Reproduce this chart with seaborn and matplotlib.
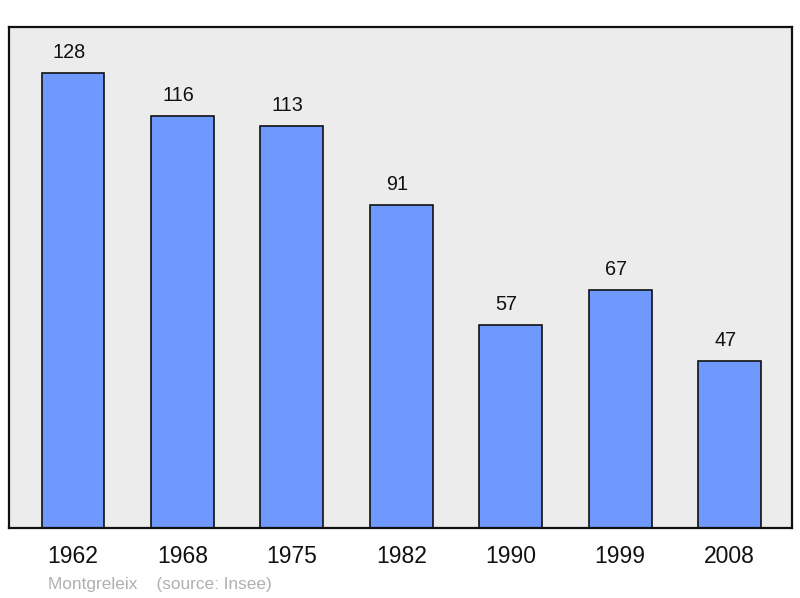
import matplotlib
matplotlib.use("Agg")
import matplotlib.pyplot as plt
import seaborn as sns
import pandas as pd

# --- data ---
years = ["1962", "1968", "1975", "1982", "1990", "1999", "2008"]
population = [128, 116, 113, 91, 57, 67, 47]

df = pd.DataFrame({"year": years, "pop": population})

sns.set_theme(style="white")
plt.rcParams["font.family"] = ["Liberation Sans", "DejaVu Sans"]

fig = plt.figure(figsize=(8, 5.98), dpi=100)
ax = fig.add_axes([9 / 800, 70 / 598, 783 / 800, 501 / 598])
ax.set_facecolor("#ececec")

sns.barplot(data=df, x="year", y="pop", ax=ax, color="#7099ff",
            saturation=1, width=0.575, edgecolor="#111111", linewidth=1.2)

for i, v in enumerate(population):
    ax.annotate(str(v), (i, v), xytext=(-3, 8), textcoords="offset points",
                ha="center", va="bottom", fontsize=14.3, color="#111111")

ax.set_ylim(0, 141)
ax.set_xlim(-0.585, 6.57)
ax.set_yticks([])
ax.set_xlabel("")
ax.set_ylabel("")
ax.tick_params(axis="x", length=0, pad=12, labelsize=16.5, labelcolor="#111111")

for s in ax.spines.values():
    s.set_visible(True)
    s.set_color("#111111")
    s.set_linewidth(1.6)

fig.text(48 / 800, 1 - 585 / 598, "Montgreleix    (source: Insee)",
         fontsize=12.4, color="#b0b0b0", ha="left", va="center")

fig.savefig("out.png", dpi=100)
